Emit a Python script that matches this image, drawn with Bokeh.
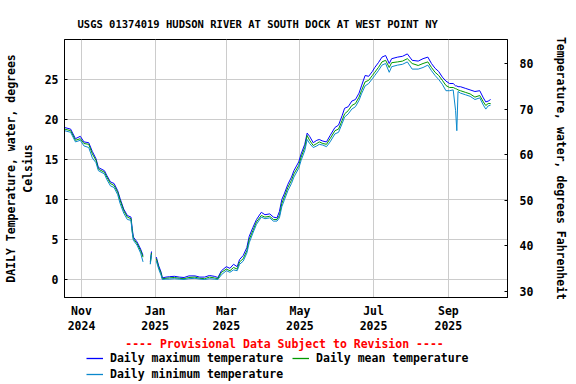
import math
from datetime import datetime
import pandas as pd
from bokeh.plotting import figure
from bokeh.layouts import column
from bokeh.models import (Range1d, LinearAxis, DatetimeAxis, FixedTicker, Legend, LegendItem,
                          Label, ColumnDataSource)
from bokeh.embed import file_html
from bokeh.resources import INLINE

NaN = float("nan")

# ---------------- data ----------------
dates = [
    "2024-10-18", "2024-10-23", "2024-10-27", "2024-10-31", "2024-11-03", "2024-11-07",
    "2024-11-10", "2024-11-13", "2024-11-15", "2024-11-20", "2024-11-22", "2024-11-25",
    "2024-11-28", "2024-12-01", "2024-12-03", "2024-12-06", "2024-12-09", "2024-12-12",
    "2024-12-13", "2024-12-14", "2024-12-17", "2024-12-20", "2024-12-22", "2024-12-25",
    "2024-12-28", "2024-12-29", "2024-12-31", "2025-01-02", "2025-01-04", "2025-01-06",
    "2025-01-07", "2025-01-10", "2025-01-13", "2025-01-17", "2025-01-21", "2025-01-25",
    "2025-01-29", "2025-02-03", "2025-02-07", "2025-02-11", "2025-02-15", "2025-02-19",
    "2025-02-22", "2025-02-25", "2025-03-01", "2025-03-04", "2025-03-07", "2025-03-10",
    "2025-03-12", "2025-03-15", "2025-03-18", "2025-03-20", "2025-03-23", "2025-03-26",
    "2025-03-30", "2025-04-02", "2025-04-06", "2025-04-09", "2025-04-12", "2025-04-14",
    "2025-04-16", "2025-04-18", "2025-04-21", "2025-04-24", "2025-04-26", "2025-04-30",
    "2025-05-02", "2025-05-05", "2025-05-07", "2025-05-09", "2025-05-12", "2025-05-15",
    "2025-05-17", "2025-05-20", "2025-05-23", "2025-05-26", "2025-05-30", "2025-06-02",
    "2025-06-05", "2025-06-07", "2025-06-10", "2025-06-13", "2025-06-16", "2025-06-19",
    "2025-06-21", "2025-06-24", "2025-06-27", "2025-06-30", "2025-07-02", "2025-07-05",
    "2025-07-08", "2025-07-11", "2025-07-14", "2025-07-16", "2025-07-21", "2025-07-25",
    "2025-07-29", "2025-08-02", "2025-08-07", "2025-08-11", "2025-08-15", "2025-08-18",
    "2025-08-21", "2025-08-24", "2025-08-27", "2025-08-30", "2025-09-02", "2025-09-05",
    "2025-09-07", "2025-09-08", "2025-09-09", "2025-09-11", "2025-09-15", "2025-09-19",
    "2025-09-23", "2025-09-27", "2025-09-30", "2025-10-02", "2025-10-04", "2025-10-06",
]

temp_max = [
    19.0, 18.8, 17.6, 17.9, 17.2, 17.1,
    16.0, 15.1, 14.0, 13.6, 13.0, 12.2,
    12.0, 11.1, 10.1, 8.8, 8.0, 7.8,
    6.4, 5.3, 4.7, 3.8, 3.0, NaN,
    2.2, 3.5, NaN, 2.8, 1.7, 0.9,
    0.2, 0.3, 0.35, 0.4, 0.3, 0.25,
    0.45, 0.45, 0.3, 0.3, 0.5, 0.4,
    0.25, 1.1, 1.6, 1.4, 1.9, 1.6,
    2.5, 3.0, 4.0, 5.4, 6.5, 7.5,
    8.4, 8.1, 8.2, 7.8, 7.7, 8.5,
    10.0, 10.7, 11.9, 12.8, 13.6, 14.7,
    15.7, 16.9, 18.3, 17.9, 17.1, 17.4,
    17.5, 17.3, 17.2, 18.0, 19.0, 19.3,
    20.5, 21.4, 21.6, 22.3, 22.5, 23.3,
    24.2, 25.5, 25.4, 26.0, 26.5, 27.1,
    27.8, 28.0, 27.0, 27.6, 27.8, 27.9,
    28.2, 27.4, 27.3, 27.6, 27.8, 27.0,
    26.4, 26.0, 25.3, 24.8, 24.5, 24.5,
    24.2, 24.2, 24.1, 24.1, 23.9, 23.7,
    23.5, 23.6, 22.7, 22.2, 22.3, 22.5,
]

temp_mean = [
    18.8, 18.6, 17.4, 17.6, 17.0, 16.9,
    15.7, 14.9, 13.8, 13.4, 12.8, 12.0,
    11.75, 10.9, 9.9, 8.6, 7.8, 7.6,
    6.1, 5.1, 4.5, 3.6, 2.8, NaN,
    2.0, 3.3, NaN, 2.6, 1.5, 0.75,
    0.1, 0.15, 0.2, 0.25, 0.15, 0.1,
    0.25, 0.3, 0.15, 0.1, 0.3, 0.2,
    0.1, 0.9, 1.3, 1.1, 1.5, 1.3,
    2.2, 2.6, 3.6, 5.0, 6.1, 7.2,
    8.0, 7.8, 7.9, 7.5, 7.5, 8.0,
    9.5, 10.3, 11.5, 12.4, 13.2, 14.25,
    15.3, 16.5, 18.0, 17.4, 16.75, 17.0,
    17.2, 17.0, 16.9, 17.6, 18.6, 18.8,
    19.9, 20.7, 21.1, 21.75, 22.0, 22.8,
    23.6, 24.7, 24.9, 25.5, 25.9, 26.5,
    27.2, 27.4, 26.5, 27.1, 27.2, 27.3,
    27.6, 27.0, 26.75, 27.0, 27.2, 26.5,
    25.9, 25.5, 24.9, 24.25, 24.0, 24.0,
    23.85, 23.8, 23.7, 23.6, 23.4, 23.2,
    22.8, 23.0, 22.2, 21.75, 22.0, 22.0,
]

temp_min = [
    18.6, 18.4, 17.2, 17.4, 16.7, 16.5,
    15.2, 14.6, 13.6, 13.2, 12.5, 11.7,
    11.5, 10.6, 9.5, 8.3, 7.5, 7.4,
    5.9, 4.9, 4.3, 3.3, 2.2, NaN,
    1.9, 3.1, NaN, 2.3, 1.3, 0.5,
    0.0, 0.05, 0.05, 0.1, 0.05, 0.0,
    0.1, 0.15, 0.05, 0.0, 0.1, 0.05,
    0.0, 0.6, 1.1, 0.9, 1.2, 1.1,
    1.9, 2.3, 3.3, 4.6, 5.8, 6.9,
    7.8, 7.6, 7.7, 7.3, 7.3, 7.7,
    9.1, 9.9, 11.1, 12.0, 12.8, 13.9,
    14.9, 16.1, 17.5, 17.0, 16.5, 16.7,
    16.9, 16.8, 16.6, 17.2, 18.2, 18.4,
    19.5, 20.3, 20.7, 21.3, 21.6, 22.4,
    23.2, 24.2, 24.5, 25.1, 25.5, 26.1,
    26.8, 27.0, 25.9, 26.6, 26.8, 26.9,
    27.2, 26.3, 26.3, 26.5, 26.8, 26.1,
    25.5, 25.0, 24.4, 23.6, 23.6, 23.7,
    21.1, 18.6, 23.5, 23.3, 23.1, 22.9,
    22.5, 22.7, 21.8, 21.3, 21.7, 21.8,
]

x_tick_dates = ["2024-11-01", "2025-01-01", "2025-03-01", "2025-05-01", "2025-07-01", "2025-09-01"]
x_tick_months = ["Nov", "Jan", "Mar", "May", "Jul", "Sep"]
x_tick_years = ["2024", "2025", "2025", "2025", "2025", "2025"]
c_ticks = [0, 5, 10, 15, 20, 25]
f_ticks = [30, 40, 50, 60, 70, 80]

title_text = "USGS 01374019 HUDSON RIVER AT SOUTH DOCK AT WEST POINT NY"
left_label = "DAILY Temperature, water, degrees\nCelsius"
right_label = "Temperature, water, degrees Fahrenheit"
provisional = "---- Provisional Data Subject to Revision ----"
series_labels = ["Daily maximum temperature", "Daily mean temperature", "Daily minimum temperature"]
series_colors = ["#0000ff", "#009900", "#0a88cc"]

# ---------------- main figure ----------------
FONT = "DejaVu Sans Mono"
FS = "11.5px"
W = 576

src = ColumnDataSource(dict(
    date=pd.to_datetime(dates),
    tmax=temp_max, tmean=temp_mean, tmin=temp_min,
))

p = figure(width=W, height=332, x_axis_type="datetime",
           x_range=Range1d(start=datetime(2024, 10, 17, 22), end=datetime(2025, 10, 20)),
           y_range=Range1d(start=-2.25, end=30),
           output_backend="svg", toolbar_location=None,
           min_border_left=56, min_border_right=69, min_border_top=39, min_border_bottom=35)
p.background_fill_color = "white"
p.border_fill_color = "white"
p.outline_line_color = "black"
p.outline_line_width = 1
p.outline_line_alpha = 1

p.title.text = title_text
p.title.text_font = FONT
p.title.text_font_size = "10.5px"
p.title.text_font_style = "bold"
p.title.text_color = "black"
p.title.align = "left"
p.title.offset = 13
p.title.standoff = 20

p.extra_y_ranges = {"F": Range1d(start=28.7, end=85.3)}

r_max = p.line("date", "tmax", source=src, color=series_colors[0], line_width=1)
r_mean = p.line("date", "tmean", source=src, color=series_colors[1], line_width=1)
r_min = p.line("date", "tmin", source=src, color=series_colors[2], line_width=1)

tick_ms = [pd.Timestamp(d).value / 1e6 for d in x_tick_dates]

xa = p.xaxis[0]
xa.ticker = FixedTicker(ticks=tick_ms)
xa.major_label_overrides = {t: l for t, l in zip(tick_ms, x_tick_months)}
xa2 = DatetimeAxis(ticker=FixedTicker(ticks=tick_ms),
                   major_label_overrides={t: l for t, l in zip(tick_ms, x_tick_years)})
p.add_layout(xa2, "below")

ya = p.yaxis[0]
ya.ticker = FixedTicker(ticks=c_ticks)
ya.axis_label = left_label

ra = LinearAxis(y_range_name="F", ticker=FixedTicker(ticks=f_ticks), axis_label=right_label)
p.add_layout(ra, "right")

for ax in (xa, xa2, ya, ra):
    ax.major_label_text_font = FONT
    ax.major_label_text_font_size = FS
    ax.major_label_text_font_style = "bold"
    ax.major_label_text_color = "black"
    ax.axis_label_text_font = FONT
    ax.axis_label_text_font_size = FS
    ax.axis_label_text_font_style = "bold"
    ax.axis_label_text_color = "black"
    ax.axis_line_color = "black"
    ax.major_tick_line_color = "black"
    ax.major_tick_in = 3
    ax.major_tick_out = 0
    ax.minor_tick_line_color = None
xa.major_tick_in = 0
xa.major_label_standoff = 6
xa2.major_tick_in = 0
xa2.axis_line_color = None
xa2.major_tick_line_color = None
xa2.major_label_standoff = 0
ya.major_label_standoff = 6
ya.axis_label_standoff = 7
ra.major_label_standoff = 12
ra.axis_label_standoff = 18

p.xgrid.ticker = FixedTicker(ticks=tick_ms)
p.ygrid.ticker = FixedTicker(ticks=c_ticks)
for g in (p.xgrid[0], p.ygrid[0]):
    g.grid_line_color = "#cccccc"
    g.grid_line_width = 1

# ---------------- legend strip ----------------
# (its frame is aligned with the main frame: x 64..507 in page pixels)
QH = 52
q = figure(width=W, height=QH, x_range=Range1d(64, 507), y_range=Range1d(QH, 0),
           output_backend="svg", toolbar_location=None,
           x_axis_location=None, y_axis_location=None,
           min_border_left=0, min_border_right=0, min_border_top=0, min_border_bottom=0)
q.outline_line_color = None
q.background_fill_color = "white"
q.border_fill_color = "white"
q.xgrid.visible = False
q.ygrid.visible = False

# legend renderers (same series; they fall outside this strip's range, only the legend shows)
l_max = q.line("date", "tmax", source=src, color=series_colors[0], line_width=1.3)
l_mean = q.line("date", "tmean", source=src, color=series_colors[1], line_width=1.3)
l_min = q.line("date", "tmin", source=src, color=series_colors[2], line_width=1.3)

q.add_layout(Label(x=284, y=11, text=provisional, text_align="center", text_baseline="middle",
                   text_color="red", text_font=FONT, text_font_size=FS, text_font_style="bold"))


def make_legend(items, loc):
    lg = Legend(items=items, orientation="horizontal", location=loc)
    lg.label_text_font = FONT
    lg.label_text_font_size = FS
    lg.label_text_font_style = "bold"
    lg.label_text_color = "black"
    lg.glyph_width = 17
    lg.glyph_height = 14
    lg.label_height = 14
    lg.label_standoff = 7
    lg.spacing = 9
    lg.padding = 0
    lg.margin = 0
    lg.border_line_alpha = 0
    lg.background_fill_alpha = 0
    return lg


leg1 = make_legend([LegendItem(label=series_labels[0], renderers=[l_max]),
                    LegendItem(label=series_labels[1], renderers=[l_mean])], (22, 19))
leg2 = make_legend([LegendItem(label=series_labels[2], renderers=[l_min])], (22, 3))
q.add_layout(leg1, "center")
q.add_layout(leg2, "center")

layout = column(p, q, spacing=0)
open("out.html", "w").write(file_html(layout, INLINE))
